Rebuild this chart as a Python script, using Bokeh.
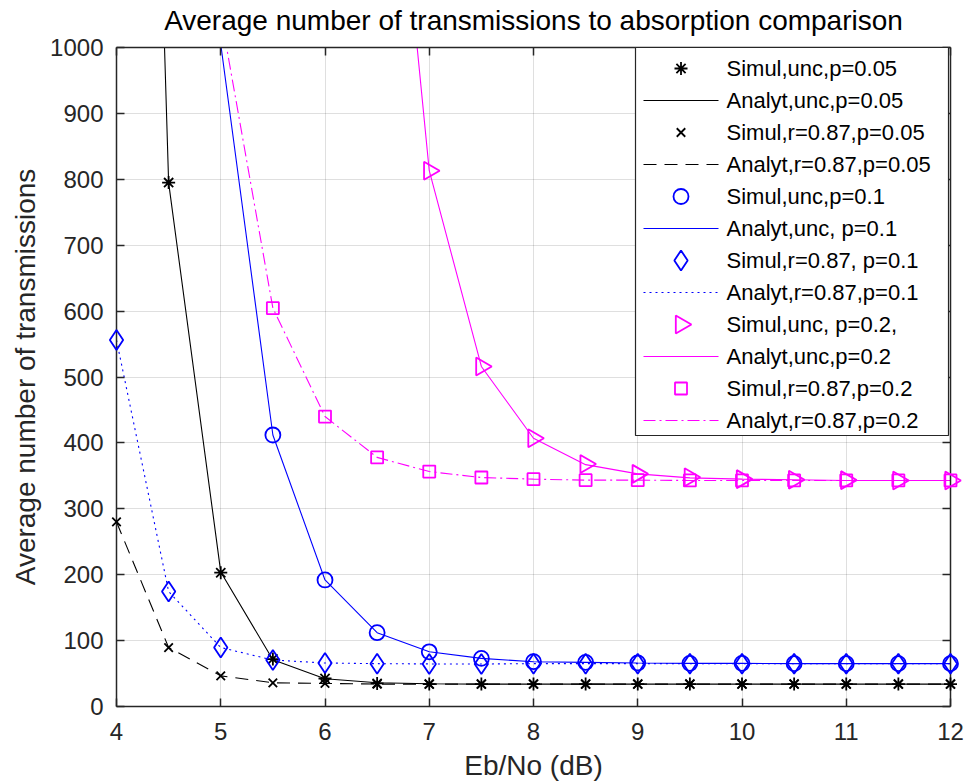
import math
from bokeh.plotting import figure
from bokeh.models import FixedTicker, LinearAxis, ColumnDataSource, CustomLabelingPolicy
from bokeh.core.properties import value
from bokeh.embed import file_html
from bokeh.resources import INLINE

nan = float("nan")

# ---- data ----
ebno = [4, 4.5, 5, 5.5, 6, 6.5, 7, 7.5, 8, 8.5, 9, 9.5, 10, 10.5, 11, 11.5, 12]

sim_unc_p05 = [nan, 795, 203, 72, 42.5, 35, 34, 34, 34, 34, 34, 34, 34, 34, 34, 34, 34]
ana_unc_p05 = [3400, 795, 204, 71, 42, 36, 34.5, 34, 34, 34, 34, 34, 34, 34, 34, 34, 34]

sim_r87_p05 = [280, 89.5, 46.5, 36, 35, 34, 34, 34, 34, 34, 34, 34, 34, 34, 34, 34, 34]
ana_r87_p05 = [280, 89.5, 46.5, 36, 35, 34, 34, 34, 34, 34, 34, 34, 34, 34, 34, 34, 34]

sim_unc_p1 = [nan, nan, nan, 412, 192, 112, 83, 73, 68, 67, 66, 65.5, 65.5, 65, 65, 65, 65]
ana_unc_p1 = [nan, nan, 1005, 412, 192, 112, 83, 73, 68, 67, 66, 65.5, 65.5, 65, 65, 65, 65]

sim_r87_p1 = [556, 174.5, 89.5, 70.5, 66, 65, 64.6, 64.5, 65, 65, 65, 65, 65, 65, 65, 65, 65]
ana_r87_p1 = [556, 174.5, 89.5, 70.5, 66, 65, 64.6, 64.5, 65, 65, 65, 65, 65, 65, 65, 65, 65]

sim_unc_p2 = [nan, nan, nan, nan, nan, nan, 813, 516, 407, 368, 353, 348, 345, 344, 343.5, 343, 343]
ana_unc_p2 = [nan, nan, nan, nan, nan, 1620, 813, 516, 407, 367, 353, 347, 345, 344, 343, 343, 343]

sim_r87_p2 = [nan, nan, nan, 604.5, 440, 378, 356.5, 347.5, 345, 343.5, 343.5, 343, 343, 343, 343, 343, 343]
ana_r87_p2 = [nan, nan, 1050, 604.5, 440, 378, 356.5, 347.5, 345, 343.5, 343.5, 343, 343, 343, 343, 343, 343]

x_ticks = [4, 5, 6, 7, 8, 9, 10, 11, 12]
y_ticks = [0, 100, 200, 300, 400, 500, 600, 700, 800, 900, 1000]

labels = ["Simul,unc,p=0.05", "Analyt,unc,p=0.05", "Simul,r=0.87,p=0.05",
          "Analyt,r=0.87,p=0.05", "Simul,unc,p=0.1", "Analyt,unc, p=0.1",
          "Simul,r=0.87, p=0.1", "Analyt,r=0.87,p=0.1", "Simul,unc, p=0.2,",
          "Analyt,unc,p=0.2", "Simul,r=0.87,p=0.2", "Analyt,r=0.87,p=0.2"]

title = "Average number of transmissions to absorption comparison"
xlabel = "Eb/No (dB)"
ylabel = "Average number of transmissions"

# ---- style / layout ----
FONT = "Liberation Sans"
AX = "#262626"
BLACK, BLUE, MAG = "#000000", "#0000ff", "#ff00ff"
X0, X1, Y0, Y1 = 4, 12, 0, 1000
FRAME_L, FRAME_T, FRAME_W, FRAME_H = 116, 47, 834, 659
FIG_W, FIG_H = 965, 784
MARKER_LW = 1.8

p = figure(frame_width=FRAME_W, frame_height=FRAME_H, x_range=(X0, X1), y_range=(Y0, Y1),
           output_backend="svg", toolbar_location=None,
           min_border_left=FRAME_L, min_border_right=FIG_W - FRAME_L - FRAME_W,
           min_border_top=FRAME_T, min_border_bottom=FIG_H - FRAME_T - FRAME_H,
           background_fill_color="white", border_fill_color="white")
p.outline_line_color = None

p.title.text = title
p.title.align = "center"
p.title.text_font = FONT
p.title.text_font_size = "28px"
p.title.text_font_style = "normal"
p.title.text_color = "#000000"
p.title.standoff = 1

for ax in (p.xaxis[0], p.yaxis[0]):
    ax.major_label_text_font = FONT
    ax.major_label_text_font_size = "24px"
    ax.major_label_text_color = AX
    ax.axis_label_text_font = FONT
    ax.axis_label_text_font_size = "28px"
    ax.axis_label_text_font_style = "normal"
    ax.axis_label_text_color = AX
    ax.axis_line_color = AX
    ax.axis_line_width = 1.5
    ax.major_tick_line_color = AX
    ax.major_tick_line_width = 1.5
    ax.major_tick_in = 8
    ax.major_tick_out = 0
    ax.minor_tick_line_color = None

p.xaxis[0].ticker = FixedTicker(ticks=x_ticks)
p.yaxis[0].ticker = FixedTicker(ticks=y_ticks)
p.xaxis[0].axis_label = xlabel
p.yaxis[0].axis_label = ylabel
p.xaxis[0].major_label_standoff = 16
p.yaxis[0].major_label_standoff = 13
p.xaxis[0].axis_label_standoff = 7
p.yaxis[0].axis_label_standoff = 6

no_labels = CustomLabelingPolicy(code="""
for (const i of Array.from(indices)) { indices.set(i, false) }
return indices
""")
for side, tk in (("above", x_ticks), ("right", y_ticks)):
    a = LinearAxis(ticker=FixedTicker(ticks=tk), major_label_policy=no_labels)
    a.major_label_standoff = 0
    a.axis_line_color = AX
    a.axis_line_width = 1.5
    a.major_tick_line_color = AX
    a.major_tick_line_width = 1.5
    a.major_tick_in = 8
    a.major_tick_out = 0
    a.minor_tick_line_color = None
    p.add_layout(a, side)

for g in (p.xgrid[0], p.ygrid[0]):
    g.grid_line_color = AX
    g.grid_line_alpha = 0.15
    g.grid_line_width = 1
p.xgrid[0].ticker = FixedTicker(ticks=x_ticks)
p.ygrid[0].ticker = FixedTicker(ticks=y_ticks)

# ---- series ----
series = []  # (kind, color, marker/dash, size, angle)


def sim(vals, marker, color, size, angle=0.0):
    src = ColumnDataSource(dict(x=ebno, y=vals))
    p.scatter("x", "y", source=src, marker=marker, size=size, angle=angle,
              line_color=color, fill_color=None, line_width=MARKER_LW, level="overlay")
    series.append(("m", color, marker, size, angle))


def ana(vals, color, dash):
    src = ColumnDataSource(dict(x=ebno, y=vals))
    p.line("x", "y", source=src, line_color=color, line_width=1.1, line_dash=dash)
    series.append(("l", color, dash, None, None))


sim(sim_unc_p05, "asterisk", BLACK, 13)
ana(ana_unc_p05, BLACK, "solid")
sim(sim_r87_p05, "x", BLACK, 12)
ana(ana_r87_p05, BLACK, "13 8")
sim(sim_unc_p1, "circle", BLUE, 15)
ana(ana_unc_p1, BLUE, "solid")
sim(sim_r87_p1, "diamond", BLUE, 20)
ana(ana_r87_p1, BLUE, "2 4")
sim(sim_unc_p2, "triangle", MAG, 18, angle=-math.pi / 2)
ana(ana_unc_p2, MAG, "solid")
sim(sim_r87_p2, "square", MAG, 12)
ana(ana_r87_p2, MAG, "12 4 2 4")

# ---- legend (drawn as overlay glyphs; geometry in page pixels) ----
LEG_L, LEG_R, LEG_T, LEG_B = 635, 948, 47, 435
ROW0, ROW_STEP = 68, 32
SAMPLE_L, SAMPLE_R, TEXT_X = 643, 718, 726


def dx(px):
    return X0 + (px - FRAME_L) / FRAME_W * (X1 - X0)


def dy(py):
    return Y1 - (py - FRAME_T) / FRAME_H * (Y1 - Y0)


p.quad(left=[dx(LEG_L)], right=[dx(LEG_R)], top=[dy(LEG_T)], bottom=[dy(LEG_B)],
       fill_color="white", line_color=AX, line_width=1.2, level="overlay")

for i, (kind, color, style, size, angle) in enumerate(series):
    ry = dy(ROW0 + i * ROW_STEP)
    if kind == "m":
        p.scatter(x=[dx((SAMPLE_L + SAMPLE_R) / 2)], y=[ry], marker=style, size=size,
                  angle=angle, line_color=color, fill_color=None, line_width=MARKER_LW,
                  level="overlay")
    else:
        p.line(x=[dx(SAMPLE_L), dx(SAMPLE_R)], y=[ry, ry], line_color=color,
               line_width=1.1, line_dash=style, level="overlay")

p.text(x=[dx(TEXT_X)] * len(labels), y=[dy(ROW0 + i * ROW_STEP) for i in range(len(labels))],
       text=labels, text_font=value(FONT), text_font_size="22px", text_color="#000000",
       text_align="left", text_baseline="middle", level="overlay")

open("out.html", "w").write(file_html(p, INLINE))
